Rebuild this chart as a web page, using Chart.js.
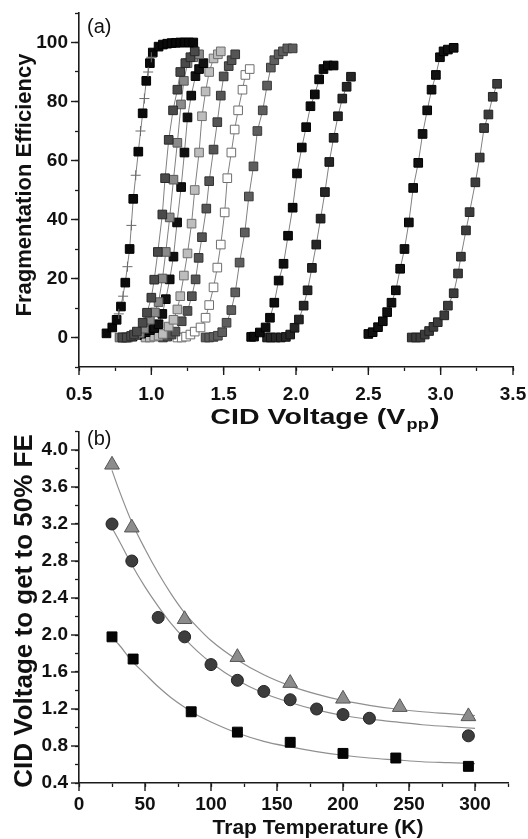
<!DOCTYPE html>
<html>
<head>
<meta charset="utf-8">
<script src="https://cdn.jsdelivr.net/npm/chart.js@4.4.1/dist/chart.umd.min.js"></script>
<style>
  html, body { margin: 0; padding: 0; background: #fff; }
  #wrapA { position: absolute; left: 0; top: 0; width: 528px; height: 432px; }
  #wrapB { position: absolute; left: 0; top: 422px; width: 528px; height: 417px; }
</style>
</head>
<body>
<div id="wrapA"><canvas id="chartA" width="528" height="432"></canvas></div>
<div id="wrapB"><canvas id="chartB" width="528" height="417"></canvas></div>
<script>
// ---- panel (a): fragmentation efficiency vs CID voltage ----
const c1V = [0.69, 0.73, 0.76, 0.79, 0.82, 0.85, 0.875, 0.91, 0.94, 0.965, 0.99, 1.01, 1.05, 1.08, 1.11, 1.14, 1.17, 1.20, 1.23, 1.26, 1.29];
const c1FE = [1.4, 3.4, 6, 10.5, 18.6, 30, 47, 63, 76, 87, 93, 96.6, 98.6, 99.3, 99.6, 99.8, 99.9, 100, 100, 100, 100];
const c1errV = [0.775, 0.805, 0.835, 0.862, 0.892, 0.925, 0.952, 0.978, 1.0];
const c1errFE = [8, 14, 24, 38, 55, 70, 81, 90, 95];
const c2V = [0.80, 0.83, 0.86, 0.88, 0.90, 0.94, 0.97, 1.00, 1.02, 1.045, 1.076, 1.095, 1.12, 1.15, 1.18, 1.20, 1.235, 1.27, 1.30];
const c2FE = [0, 0, 0.5, 1, 2, 5, 8.4, 13.5, 19.6, 29, 41.7, 54, 67, 77, 84, 90, 93, 95, 97];
const c3V = [0.78, 0.80, 0.82, 0.84, 0.86, 0.89, 0.92, 0.95, 0.99, 1.025, 1.05, 1.077, 1.10, 1.127, 1.153, 1.18, 1.205, 1.225, 1.25, 1.29, 1.33];
const c3FE = [0, 0, 0, 0, 0.3, 0.8, 1.5, 3, 6, 8.5, 12, 20, 29, 40.7, 53.5, 66, 79, 87, 93, 95, 96];
const c4V = [0.87, 0.90, 0.93, 0.96, 0.99, 1.02, 1.05, 1.076, 1.10, 1.127, 1.153, 1.178, 1.206, 1.229, 1.25, 1.276, 1.305, 1.33, 1.36];
const c4FE = [0.3, 0.8, 1.3, 1.8, 2.5, 3.2, 4.5, 8, 13, 19.7, 27.4, 39, 51, 62.7, 74.6, 82, 88.6, 91, 93];
const c5V = [0.96, 0.99, 1.02, 1.05, 1.08, 1.12, 1.153, 1.18, 1.20, 1.225, 1.25, 1.278, 1.30, 1.33, 1.35, 1.375, 1.40, 1.43, 1.46, 1.48];
const c5FE = [0, 0, 0.3, 0.6, 1.2, 3.7, 6, 9.5, 14, 21, 28.5, 38.6, 50, 62.7, 75, 83.4, 90, 94.6, 96, 97];
const c6V = [1.08, 1.11, 1.14, 1.167, 1.21, 1.25, 1.28, 1.306, 1.327, 1.35, 1.38, 1.40, 1.43, 1.456, 1.48, 1.50, 1.535, 1.555, 1.58];
const c6FE = [0, 0.3, 1, 2, 5.5, 9, 14, 19.7, 27, 34, 43.7, 53, 63.7, 73, 82, 88.5, 92, 94, 96];
const c7V = [1.18, 1.21, 1.24, 1.27, 1.30, 1.34, 1.375, 1.40, 1.43, 1.456, 1.48, 1.507, 1.525, 1.553, 1.576, 1.60, 1.63, 1.65, 1.68];
const c7FE = [0, 0, 0.3, 1, 2, 3.4, 6.7, 11, 17, 23.7, 31.5, 42.4, 54, 62.7, 70.5, 77, 84, 89, 91];
const c8V = [1.375, 1.40, 1.43, 1.46, 1.49, 1.52, 1.553, 1.58, 1.61, 1.646, 1.674, 1.706, 1.733, 1.77, 1.80, 1.826, 1.85, 1.88, 1.91, 1.94, 1.977];
const c8FE = [0, 0, 0.2, 0.6, 1.8, 5, 9.3, 15.3, 25.4, 35.6, 47.8, 58, 70, 77, 85.4, 91.5, 94, 96, 97, 98, 98];
const c9V = [1.69, 1.71, 1.75, 1.79, 1.82, 1.85, 1.88, 1.914, 1.945, 1.977, 2.007, 2.04, 2.07, 2.10, 2.13, 2.16, 2.19, 2.22, 2.26];
const c9FE = [0.2, 0.3, 1.7, 3.4, 6.7, 11.8, 19.3, 25, 34.5, 44, 55.6, 64.4, 71.3, 78.4, 82.4, 87.5, 91, 92.2, 92.2];
const c10V = [1.80, 1.826, 1.86, 1.895, 1.93, 1.96, 1.99, 2.02, 2.053, 2.08, 2.11, 2.14, 2.17, 2.20, 2.23, 2.26, 2.29, 2.32, 2.35, 2.38];
const c10FE = [0, 0, 0, 0, 0.2, 1, 3.3, 6.1, 10.8, 16, 23.6, 31.5, 40.3, 49.3, 59.5, 67.7, 75, 81, 85, 88.4];
const c11V = [2.50, 2.53, 2.567, 2.60, 2.63, 2.66, 2.69, 2.72, 2.75, 2.78, 2.81, 2.845, 2.875, 2.907, 2.937, 2.967, 2.995, 3.02, 3.05, 3.09];
const c11FE = [1.2, 1.8, 3.5, 5.5, 8.6, 11.8, 16, 23.3, 30, 39, 50.7, 59.2, 69, 77, 84, 89, 95, 97, 97.6, 98.2];
const c12V = [2.80, 2.83, 2.86, 2.89, 2.92, 2.95, 2.98, 3.025, 3.05, 3.09, 3.12, 3.14, 3.175, 3.20, 3.24, 3.27, 3.30, 3.33, 3.36, 3.39];
const c12FE = [0, 0, 0, 1, 2.2, 3.6, 5.2, 7.5, 10.8, 15, 21.7, 27.4, 36.3, 42.5, 52.6, 61, 71, 75.6, 81.6, 86];

// ---- panel (b): CID voltage for 50% FE vs trap temperature ----
const triT = [25, 40, 80, 120, 160, 200, 243, 295];
const triV = [3.84, 3.16, 2.17, 1.76, 1.48, 1.31, 1.22, 1.12];
const circT = [25, 40, 60, 80, 100, 120, 140, 160, 180, 200, 220, 295];
const circV = [3.20, 2.80, 2.19, 1.98, 1.68, 1.51, 1.39, 1.30, 1.20, 1.14, 1.10, 0.91];
const sqT = [25, 41, 85, 120, 160, 200, 240, 295];
const sqV = [1.98, 1.74, 1.17, 0.95, 0.84, 0.72, 0.67, 0.58];
const fitT = [25, 30, 40, 50, 60, 70, 80, 90, 100, 120, 140, 160, 180, 200, 220, 240, 260, 280, 300];
const fitTri = [3.78, 3.58, 3.22, 2.93, 2.67, 2.44, 2.24, 2.08, 1.94, 1.73, 1.57, 1.45, 1.36, 1.29, 1.24, 1.20, 1.17, 1.15, 1.13];
const fitCirc = [3.16, 3.03, 2.76, 2.52, 2.31, 2.12, 1.96, 1.82, 1.70, 1.51, 1.37, 1.27, 1.19, 1.13, 1.09, 1.06, 1.03, 1.01, 0.99];
const fitSq = [1.97, 1.90, 1.72, 1.58, 1.44, 1.32, 1.22, 1.13, 1.06, 0.94, 0.85, 0.79, 0.74, 0.70, 0.67, 0.65, 0.63, 0.62, 0.61];

const FONT = '"Liberation Sans", Arial, sans-serif';
const pts = (xs, ys) => xs.map((x, i) => ({ x: x, y: ys[i] }));
const isStep = (v, s) => Math.abs(v / s - Math.round(v / s)) < 1e-6;

// longer major ticks, axis titles and panel letter
function makeFrame(cfg) {
  return {
    id: 'frame',
    afterDraw(chart) {
      const ctx = chart.ctx, a = chart.chartArea;
      const xs = chart.scales.x, ys = chart.scales.y;
      ctx.save();
      ctx.fillStyle = '#1b1b1b';
      xs.ticks.forEach(t => {
        if (cfg.xMajor(t.value)) {
          const p = xs.getPixelForValue(t.value);
          ctx.fillRect(p - 0.7, a.bottom, 1.4, 8);
        }
      });
      ys.ticks.forEach(t => {
        if (cfg.yMajor(t.value)) {
          const p = ys.getPixelForValue(t.value);
          ctx.fillRect(a.left - 8, p - 0.7, 8, 1.4);
        }
      });

      ctx.fillStyle = '#111';
      ctx.textBaseline = 'middle';
      ctx.font = '20px ' + FONT;
      ctx.textAlign = 'left';
      ctx.fillText(cfg.letter, cfg.letterX, cfg.letterY);

      // y title
      ctx.save();
      ctx.font = 'bold ' + cfg.yTitleSize + 'px ' + FONT;
      ctx.textAlign = 'center';
      ctx.translate(cfg.yTitleX, cfg.yTitleY);
      ctx.rotate(-Math.PI / 2);
      ctx.fillText(cfg.yTitle, 0, 0);
      ctx.restore();

      // x title, with optional subscript part, stretched horizontally
      ctx.save();
      ctx.translate(cfg.xTitleX, cfg.xTitleY);
      ctx.scale(cfg.xStretch, 1);
      const big = 'bold ' + cfg.xTitleSize + 'px ' + FONT;
      const small = 'bold ' + Math.round(cfg.xTitleSize * 0.62) + 'px ' + FONT;
      ctx.font = big;
      const w1 = ctx.measureText(cfg.xTitle).width;
      let w2 = 0, w3 = 0;
      if (cfg.xSub) {
        ctx.font = small; w2 = ctx.measureText(cfg.xSub).width + 2;
        ctx.font = big; w3 = ctx.measureText(cfg.xTail).width;
      }
      const x0 = -(w1 + w2 + w3) / 2;
      ctx.font = big;
      ctx.fillText(cfg.xTitle, x0, 0);
      if (cfg.xSub) {
        ctx.font = small;
        ctx.fillText(cfg.xSub, x0 + w1 + 1, 7);
        ctx.font = big;
        ctx.fillText(cfg.xTail, x0 + w1 + w2, 0);
      }
      ctx.restore();
      ctx.restore();
    }
  };
}

function curve(xs, ys, fill, edge) {
  return {
    data: pts(xs, ys),
    showLine: true,
    borderColor: '#808080',
    borderWidth: 1,
    pointStyle: 'rect',
    pointRadius: 6.1,
    pointBackgroundColor: fill,
    pointBorderColor: edge,
    pointBorderWidth: 1
  };
}

const axisGrid = { display: true, drawOnChartArea: false, drawTicks: true, tickLength: 4, tickColor: '#1b1b1b', tickWidth: 1.3 };
const axisBorder = { display: true, color: '#1b1b1b', width: 1.6 };
const tickFont = { family: FONT, size: 19, weight: 'bold' };

new Chart(document.getElementById('chartA'), {
  type: 'scatter',
  data: {
    datasets: [
      {
        data: pts(c1errV, c1errFE),
        showLine: false,
        pointStyle: 'cross',
        pointRadius: 5,
        pointBorderColor: '#6a6a6a',
        pointBorderWidth: 1
      },
      curve(c1V, c1FE, '#0a0a0a', '#000'),
      curve(c2V, c2FE, '#4a4a4a', '#2a2a2a'),
      curve(c3V, c3FE, '#8a8a8a', '#555'),
      curve(c4V, c4FE, '#111', '#000'),
      curve(c5V, c5FE, '#bdbdbd', '#6e6e6e'),
      curve(c6V, c6FE, '#555', '#333'),
      curve(c7V, c7FE, '#ffffff', '#6e6e6e'),
      curve(c8V, c8FE, '#5e5e5e', '#3a3a3a'),
      curve(c9V, c9FE, '#0d0d0d', '#000'),
      curve(c10V, c10FE, '#262626', '#111'),
      curve(c11V, c11FE, '#111', '#000'),
      curve(c12V, c12FE, '#3c3c3c', '#222')
    ]
  },
  options: {
    responsive: false,
    animation: false,
    layout: { padding: { left: 0, right: 15, top: 13, bottom: 0 } },
    plugins: { legend: { display: false }, tooltip: { enabled: false } },
    scales: {
      x: {
        type: 'linear', min: 0.5, max: 3.5,
        grid: axisGrid, border: axisBorder,
        afterFit: s => { s.height = 65; s.paddingLeft = 0; s.paddingRight = 0; },
        ticks: {
          stepSize: 0.25, autoSkip: false, maxRotation: 0, padding: 12, color: '#111',
          font: tickFont,
          callback: v => isStep(v, 0.5) ? v.toFixed(1) : ''
        }
      },
      y: {
        type: 'linear', min: -10, max: 110,
        grid: axisGrid, border: axisBorder,
        afterFit: s => { s.width = 79; s.paddingTop = 0; s.paddingBottom = 0; },
        ticks: {
          stepSize: 10, autoSkip: false, padding: 7, color: '#111',
          font: tickFont,
          callback: v => (isStep(v, 20) && v >= 0 && v <= 100) ? String(Math.round(v)) : ''
        }
      }
    }
  },
  plugins: [makeFrame({
    xMajor: v => isStep(v, 0.5),
    yMajor: v => isStep(v, 20) && v >= 0 && v <= 100,
    letter: '(a)', letterX: 87, letterY: 27,
    yTitle: 'Fragmentation Efficiency', yTitleSize: 22, yTitleX: 25, yTitleY: 185,
    xTitle: 'CID Voltage (V', xSub: 'pp', xTail: ')', xTitleSize: 22, xStretch: 1.3, xTitleX: 325, xTitleY: 418
  })]
});

new Chart(document.getElementById('chartB'), {
  type: 'scatter',
  data: {
    datasets: [
      {
        data: pts(triT, triV), pointStyle: 'triangle', pointRadius: 8.5,
        pointBackgroundColor: '#8c8c8c', pointBorderColor: '#555', pointBorderWidth: 1
      },
      {
        data: pts(circT, circV), pointStyle: 'circle', pointRadius: 6,
        pointBackgroundColor: '#3d3d3d', pointBorderColor: '#222', pointBorderWidth: 1
      },
      {
        data: pts(sqT, sqV), pointStyle: 'rect', pointRadius: 7,
        pointBackgroundColor: '#050505', pointBorderColor: '#000', pointBorderWidth: 1
      },
      { data: pts(fitT, fitTri), showLine: true, pointRadius: 0, borderColor: '#8f8f8f', borderWidth: 1.2, cubicInterpolationMode: 'monotone' },
      { data: pts(fitT, fitCirc), showLine: true, pointRadius: 0, borderColor: '#8f8f8f', borderWidth: 1.2, cubicInterpolationMode: 'monotone' },
      { data: pts(fitT, fitSq), showLine: true, pointRadius: 0, borderColor: '#8f8f8f', borderWidth: 1.2, cubicInterpolationMode: 'monotone' }
    ]
  },
  options: {
    responsive: false,
    animation: false,
    layout: { padding: { left: 0, right: 20, top: 8, bottom: 0 } },
    plugins: { legend: { display: false }, tooltip: { enabled: false } },
    scales: {
      x: {
        type: 'linear', min: 0, max: 325,
        grid: axisGrid, border: axisBorder,
        afterFit: s => { s.height = 56; s.paddingLeft = 0; s.paddingRight = 0; },
        ticks: {
          stepSize: 25, autoSkip: false, maxRotation: 0, padding: 6, color: '#111',
          font: tickFont,
          callback: v => (isStep(v, 50) && v <= 300) ? String(Math.round(v)) : ''
        }
      },
      y: {
        type: 'linear', min: 0.4, max: 4.2,
        grid: axisGrid, border: axisBorder,
        afterFit: s => { s.width = 79; s.paddingTop = 0; s.paddingBottom = 0; },
        ticks: {
          stepSize: 0.2, autoSkip: false, padding: 7, color: '#111',
          font: tickFont,
          callback: v => isStep(v, 0.4) ? v.toFixed(1) : ''
        }
      }
    }
  },
  plugins: [makeFrame({
    xMajor: v => isStep(v, 50),
    yMajor: v => isStep(v, 0.4),
    letter: '(b)', letterX: 87, letterY: 17,
    yTitle: 'CID Voltage to get to 50% FE', yTitleSize: 26, yTitleX: 25, yTitleY: 189,
    xTitle: 'Trap Temperature (K)', xSub: '', xTail: '', xTitleSize: 21, xStretch: 1, xTitleX: 318, xTitleY: 406
  })]
});
</script>
</body>
</html>
